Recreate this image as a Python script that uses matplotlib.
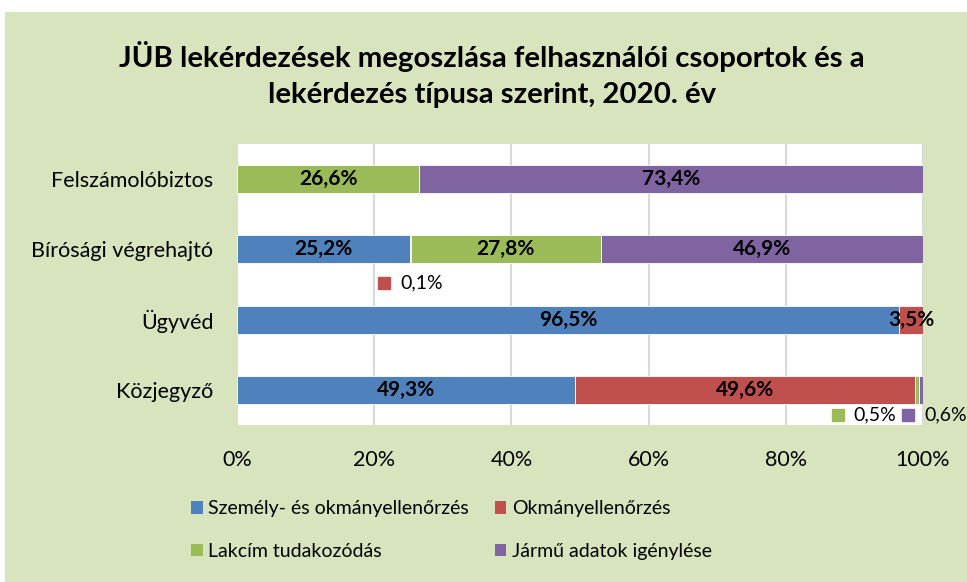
import matplotlib
matplotlib.use("Agg")
import matplotlib.pyplot as plt
from matplotlib.patches import Rectangle, Patch
from matplotlib.transforms import offset_copy
import numpy as np

plt.rcParams['font.family'] = ['Lato', 'DejaVu Sans']

categories = ["Felszámolóbiztos", "Bírósági végrehajtó", "Ügyvéd", "Közjegyző"]
series_names = ["Személy- és okmányellenőrzés", "Okmányellenőrzés",
                "Lakcím tudakozódás", "Jármű adatok igénylése"]
szemely = [0.0, 25.2, 96.5, 49.3]
okmany = [0.0, 0.1, 3.5, 49.6]
lakcim = [26.6, 27.8, 0.0, 0.5]
jarmu = [73.4, 46.9, 0.0, 0.6]
series = [szemely, okmany, lakcim, jarmu]
colors = ["#4F81BD", "#C0504D", "#9BBB59", "#8064A2"]
xticks = [0, 20, 40, 60, 80, 100]
xticklabels = ["0%", "20%", "40%", "60%", "80%", "100%"]

W, H = 967, 582
fig = plt.figure(figsize=(W / 100, H / 100), dpi=100)
fig.patch.set_facecolor("white")
fig.patches.append(Rectangle((5 / W, 0), 1 - 5 / W, 1 - 12 / H, transform=fig.transFigure,
                             facecolor="#D7E4BD", edgecolor="none", zorder=-5))

ax = fig.add_axes([237 / W, (H - 425) / H, (923 - 237) / W, (425 - 144) / H])
ax.set_facecolor("white")

y = np.arange(len(categories))
left = np.zeros(len(categories))
segments = []
for vals, c in zip(series, colors):
    vals = np.array(vals)
    ax.barh(y, vals, left=left, height=0.4, color=c, edgecolor="white",
            linewidth=0.6, zorder=3)
    segments.append((left.copy(), vals))
    left = left + vals

ax.set_xlim(0, 100)
ax.set_ylim(len(categories) - 0.5, -0.5)
ax.set_xticks(xticks)
ax.set_xticklabels(xticklabels, fontsize=15.5, color="black")
ax.set_yticks(y)
ax.set_yticklabels(categories, fontsize=15.5, color="black")
ax.tick_params(axis="both", length=0)
ax.tick_params(axis="x", pad=18)
ax.tick_params(axis="y", pad=17)
ax.grid(axis="x", color="#D9D9D9", linewidth=1.5, zorder=0)
for s in ax.spines.values():
    s.set_visible(False)
ax.axvline(0, color="#D9D9D9", linewidth=1.5, zorder=1)

def fmt(v):
    return f"{v:.1f}%".replace(".", ",")

# In-bar labels
for si, (lft, vals) in enumerate(segments):
    for ci, v in enumerate(vals):
        if v >= 3:
            ax.text(lft[ci] + v / 2, y[ci], fmt(v), ha="center", va="center",
                    fontsize=15, fontweight="bold", color="black", zorder=5)

# Small labels with legend keys (positioned relative to their segments)
small = [(1, 1, 0.0, 0.48), (2, 3, -7.8, 0.36), (3, 3, 1.9, 0.36)]
for si, ci, dx, dy in small:
    lft, vals = segments[si]
    v = vals[ci]
    cx = lft[ci] + v / 2 + dx
    cy = y[ci] + dy
    ax.text(cx, cy, fmt(v), transform=offset_copy(ax.transData, fig=fig, x=-10, y=0, units="dots"),
            fontsize=14, va="center", ha="left", color="black", clip_on=False, zorder=6)
    ax.plot([cx], [cy], marker="s", markersize=8, color=colors[si], linestyle="none",
            transform=offset_copy(ax.transData, fig=fig, x=-26, y=0, units="dots"),
            clip_on=False, zorder=6)

fig.text(492 / W, 1 - 57 / H, "JÜB lekérdezések megoszlása felhasználói csoportok és a",
         ha="center", va="center", fontsize=21.2, fontweight="bold", color="black")
fig.text(492 / W, 1 - 95 / H, "lekérdezés típusa szerint, 2020. év",
         ha="center", va="center", fontsize=21.2, fontweight="bold", color="black")

order = [0, 2, 1, 3]
handles = [Patch(facecolor=colors[i], edgecolor="none") for i in order]
labels = [series_names[i] for i in order]
fig.legend(handles, labels, loc="center left", bbox_to_anchor=(191 / W, 1 - 530 / H),
           ncol=2, frameon=False, fontsize=14, handlelength=0.6, handleheight=0.6,
           handletextpad=0.3, columnspacing=1.3, labelspacing=1.3,
           borderpad=0, borderaxespad=0, labelcolor="black")

fig.savefig("out.png", dpi=100)
